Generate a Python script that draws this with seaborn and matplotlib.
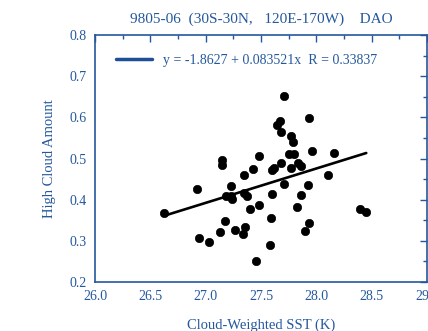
import numpy as np
import pandas as pd
import seaborn as sns
import matplotlib.pyplot as plt
from matplotlib.lines import Line2D
from matplotlib.ticker import MultipleLocator

# cloud-weighted SST (K) and high cloud amount
sst = [27.706, 27.933, 27.667, 27.645, 27.68, 27.767, 27.79, 27.96, 28.157,
       27.75, 27.80, 27.479, 27.145, 27.145, 27.68, 27.83, 27.86, 27.767,
       27.62, 27.60, 27.43, 27.35, 28.10, 26.924, 27.227, 27.706, 27.927,
       27.35, 27.37, 27.18, 27.227, 27.24, 27.60, 27.86, 26.627, 27.479,
       27.40, 27.82, 28.39, 28.45, 27.59, 27.17, 27.93, 27.90, 27.26,
       27.355, 27.34, 27.13, 26.936, 27.027, 27.585, 27.455]
cloud = [0.652, 0.599, 0.592, 0.581, 0.564, 0.555, 0.540, 0.518, 0.513,
         0.511, 0.511, 0.506, 0.497, 0.484, 0.489, 0.489, 0.482, 0.477,
         0.476, 0.471, 0.475, 0.460, 0.460, 0.426, 0.433, 0.438, 0.435,
         0.416, 0.409, 0.409, 0.409, 0.401, 0.414, 0.412, 0.367, 0.388,
         0.377, 0.383, 0.377, 0.370, 0.356, 0.349, 0.343, 0.325, 0.327,
         0.333, 0.317, 0.321, 0.307, 0.298, 0.291, 0.251]

intercept = -1.8627
slope = 0.083521
r_value = 0.33837

blue = "#24589c"

df = pd.DataFrame({"sst": sst, "cloud": cloud})
fit = pd.DataFrame({"sst": [df["sst"].min(), df["sst"].max()]})
fit["cloud"] = intercept + slope * fit["sst"]

sns.set_style("white")
plt.rcParams["font.family"] = ["Liberation Serif", "DejaVu Serif"]

fig = plt.figure(figsize=(4.28, 3.31), dpi=100)
ax = fig.add_axes([0.222, 0.148, 0.776, 0.746])

sns.scatterplot(data=df, x="sst", y="cloud", ax=ax, color="black",
                marker="o", s=36, edgecolor="black", linewidth=0.5)
sns.lineplot(data=fit, x="sst", y="cloud", ax=ax, color="black", linewidth=1.9)

ax.set_xlim(26.0, 29.0)
ax.set_ylim(0.2, 0.8)
ax.xaxis.set_major_locator(MultipleLocator(0.5))
ax.xaxis.set_minor_locator(MultipleLocator(0.25))
ax.yaxis.set_major_locator(MultipleLocator(0.1))
ax.yaxis.set_minor_locator(MultipleLocator(0.05))
ax.xaxis.set_major_formatter(plt.FormatStrFormatter("%.1f"))
ax.yaxis.set_major_formatter(plt.FormatStrFormatter("%.1f"))

ax.tick_params(which="both", direction="in", top=True, right=True,
               color=blue, labelcolor=blue, labelsize=10, width=1)
ax.tick_params(which="major", length=5, pad=6)
ax.tick_params(which="minor", length=3)
for sp in ax.spines.values():
    sp.set_color(blue)
    sp.set_linewidth(1.2)

ax.set_xlabel("Cloud-Weighted SST (K)", color=blue, fontsize=10.5, labelpad=11)
ax.set_ylabel("High Cloud Amount", color=blue, fontsize=10.5, labelpad=10)
ax.set_title("9805-06  (30S-30N,   120E-170W)    DAO", color=blue,
             fontsize=11, pad=9)

label = f"y = {intercept} + {slope}x  R = {r_value}"
handle = Line2D([0], [0], color="#1d4f96", linewidth=2.5)
leg = ax.legend([handle], [label], loc="upper left", frameon=False,
                fontsize=10, handlelength=2.6, borderaxespad=0.6,
                bbox_to_anchor=(0.02, 0.98))
for t in leg.get_texts():
    t.set_color(blue)

fig.savefig("out.png", dpi=100)
